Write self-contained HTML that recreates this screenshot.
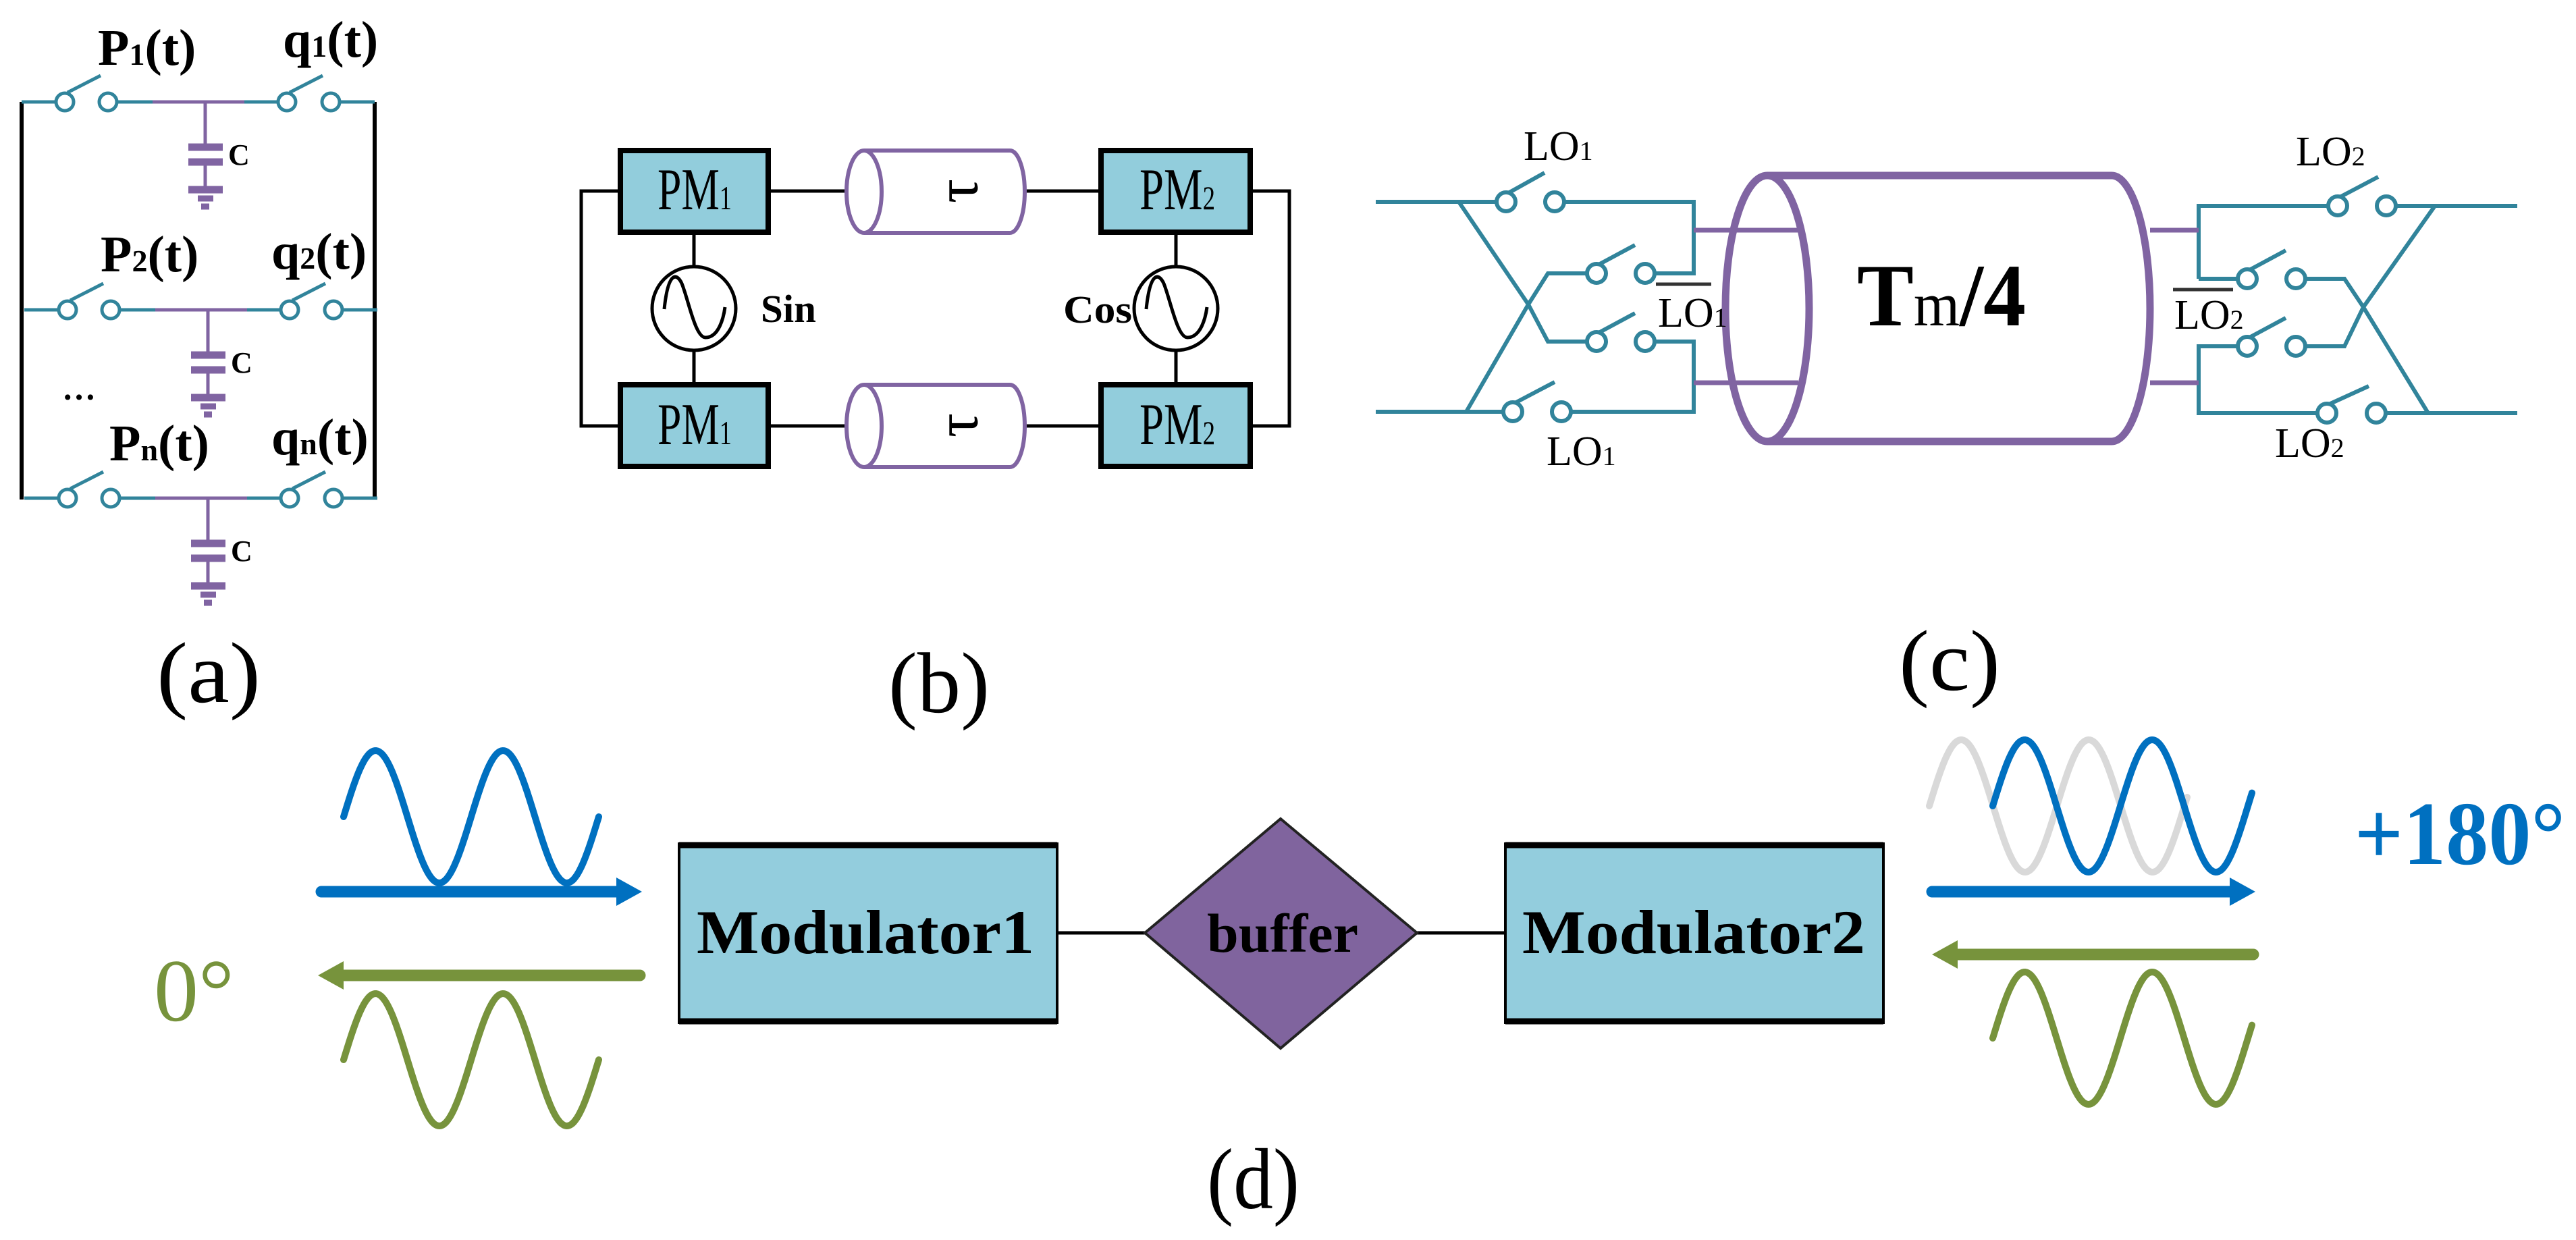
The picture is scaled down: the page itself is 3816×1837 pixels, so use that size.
<!DOCTYPE html>
<html><head><meta charset="utf-8"><style>
html,body{margin:0;padding:0;background:#fff;}
svg{display:block;}
text{font-family:"Liberation Serif",serif;}
</style></head><body>
<svg id="s" width="3816" height="1837" viewBox="0 0 3816 1837" xmlns="http://www.w3.org/2000/svg">
<rect width="3816" height="1837" fill="#fff"/>
<!-- ===== Panel (a) ===== -->
<g stroke="#000" stroke-width="6" fill="none">
<line x1="32" y1="151" x2="32" y2="740"/>
<line x1="555" y1="151" x2="555" y2="740"/>
</g>
<g id="rowa">
<g stroke="#31849b" stroke-width="5" fill="none">
<line x1="32" y1="151" x2="82" y2="151"/>
<circle cx="96" cy="151" r="13"/>
<line x1="100" y1="137" x2="149" y2="112"/>
<circle cx="160" cy="151" r="13"/>
<line x1="173" y1="151" x2="226" y2="151"/>
<line x1="362" y1="151" x2="411" y2="151"/>
<circle cx="425" cy="151" r="13"/>
<line x1="429" y1="137" x2="478" y2="112"/>
<circle cx="490" cy="151" r="13"/>
<line x1="503" y1="151" x2="555" y2="151"/>
</g>
<g stroke="#8064a2" fill="none">
<line x1="226" y1="151" x2="362" y2="151" stroke-width="5"/>
<line x1="304" y1="151" x2="304" y2="218" stroke-width="5"/>
<line x1="279" y1="218" x2="330" y2="218" stroke-width="11"/>
<line x1="279" y1="240" x2="330" y2="240" stroke-width="11"/>
<line x1="304" y1="240" x2="304" y2="281" stroke-width="5"/>
<line x1="279" y1="281" x2="330" y2="281" stroke-width="11"/>
<line x1="293" y1="294" x2="316" y2="294" stroke-width="9"/>
<line x1="298" y1="306" x2="310" y2="306" stroke-width="9"/>
</g>
<text x="338" y="244" font-size="44" font-weight="bold">C</text>
</g>
<use href="#rowa" transform="translate(4,308)"/>
<use href="#rowa" transform="translate(4,587)"/>
<g font-weight="bold" font-size="76">
<text x="145" y="96">P<tspan font-size="46">1</tspan>(t)</text>
<text x="419" y="84">q<tspan font-size="46">1</tspan>(t)</text>
<text x="149" y="402">P<tspan font-size="46">2</tspan>(t)</text>
<text x="402" y="398">q<tspan font-size="46">2</tspan>(t)</text>
<text x="162" y="682">P<tspan font-size="46">n</tspan>(t)</text>
<text x="402" y="673">q<tspan font-size="46">n</tspan>(t)</text>
<text x="92" y="592" font-size="50">…</text>
</g>
<text x="232" y="1040" font-size="128" textLength="154" lengthAdjust="spacingAndGlyphs">(a)</text>

<!-- ===== Panel (b) ===== -->
<g stroke="#000" stroke-width="5" fill="none">
<polyline points="919,283 861,283 861,631 919,631"/>
<polyline points="1852,283 1910,283 1910,631 1852,631"/>
<line x1="1138" y1="283" x2="1254" y2="283"/><line x1="1518" y1="283" x2="1631" y2="283"/>
<line x1="1138" y1="631" x2="1254" y2="631"/><line x1="1518" y1="631" x2="1631" y2="631"/>
<line x1="1028" y1="344" x2="1028" y2="395"/><line x1="1028" y1="519" x2="1028" y2="570"/>
<line x1="1742" y1="344" x2="1742" y2="395"/><line x1="1742" y1="519" x2="1742" y2="570"/>
<circle cx="1028" cy="457" r="62"/>
<circle cx="1742" cy="457" r="62"/>
<path d="M984,458 C990,400 1003,405 1010,420 C1020,445 1030,500 1045,500 C1065,500 1072,470 1074,455"/>
<path d="M1698,458 C1704,400 1717,405 1724,420 C1734,445 1744,500 1759,500 C1779,500 1786,470 1788,455"/>
</g>
<g fill="#92cddc" stroke="#000" stroke-width="8">
<rect x="919" y="223" width="219" height="121"/>
<rect x="919" y="570" width="219" height="121"/>
<rect x="1631" y="223" width="221" height="121"/>
<rect x="1631" y="570" width="221" height="121"/>
</g>
<g font-size="88">
<text x="974" y="310" textLength="110" lengthAdjust="spacingAndGlyphs">PM<tspan font-size="50">1</tspan></text>
<text x="974" y="658" textLength="110" lengthAdjust="spacingAndGlyphs">PM<tspan font-size="50">1</tspan></text>
<text x="1688" y="310" textLength="112" lengthAdjust="spacingAndGlyphs">PM<tspan font-size="50">2</tspan></text>
<text x="1688" y="658" textLength="112" lengthAdjust="spacingAndGlyphs">PM<tspan font-size="50">2</tspan></text>
</g>
<text x="1127" y="477" font-size="58" font-weight="bold" textLength="82" lengthAdjust="spacingAndGlyphs">Sin</text>
<text x="1575" y="478" font-size="58" font-weight="bold" textLength="102" lengthAdjust="spacingAndGlyphs">Cos</text>
<g id="tube" stroke="#8064a2" stroke-width="6" fill="#fff">
<path d="M1280,223 L1496,223 A22,61 0 0 1 1496,345 L1280,345"/>
<ellipse cx="1280" cy="284" rx="26" ry="61"/>
</g>
<use href="#tube" transform="translate(0,347)"/>
<text x="0" y="0" font-size="90" transform="translate(1418,283) rotate(-90)" text-anchor="middle" dominant-baseline="central">τ</text>
<text x="0" y="0" font-size="90" transform="translate(1418,630) rotate(-90)" text-anchor="middle" dominant-baseline="central">τ</text>
<text x="1316" y="1055" font-size="128" textLength="150" lengthAdjust="spacingAndGlyphs">(b)</text>

<!-- ===== Panel (c) ===== -->
<g stroke="#31849b" stroke-width="6" fill="none">
<line x1="2038" y1="299" x2="2217" y2="299"/>
<circle cx="2231" cy="299" r="14"/><line x1="2236" y1="285" x2="2288" y2="256"/>
<circle cx="2303" cy="299" r="14"/>
<polyline points="2317,299 2509,299 2509,405 2451,405"/>
<circle cx="2365" cy="405" r="14"/><line x1="2370" y1="391" x2="2422" y2="363"/>
<circle cx="2437" cy="405" r="14"/>
<circle cx="2365" cy="506" r="14"/><line x1="2370" y1="492" x2="2422" y2="464"/>
<circle cx="2437" cy="506" r="14"/>
<polyline points="2451,506 2509,506 2509,610 2327,610"/>
<circle cx="2241" cy="610" r="14"/><line x1="2246" y1="596" x2="2303" y2="566"/>
<circle cx="2313" cy="610" r="14"/>
<line x1="2038" y1="610" x2="2227" y2="610"/>
<polyline points="2161,299 2264,451 2293,506 2351,506"/>
<polyline points="2172,610 2264,451 2293,405 2351,405"/>
<!-- right -->
<polyline points="3257,413 3257,305 3449,305"/>
<circle cx="3463" cy="305" r="14"/><line x1="3468" y1="291" x2="3523" y2="262"/>
<circle cx="3535" cy="305" r="14"/>
<line x1="3549" y1="305" x2="3729" y2="305"/>
<line x1="3257" y1="413" x2="3315" y2="413"/>
<circle cx="3329" cy="413" r="14"/><line x1="3334" y1="399" x2="3386" y2="371"/>
<circle cx="3401" cy="413" r="14"/>
<circle cx="3329" cy="513" r="14"/><line x1="3334" y1="499" x2="3386" y2="471"/>
<circle cx="3401" cy="513" r="14"/>
<polyline points="3315,513 3257,513 3257,612 3433,612"/>
<circle cx="3447" cy="612" r="14"/><line x1="3452" y1="598" x2="3509" y2="572"/>
<circle cx="3520" cy="612" r="14"/>
<line x1="3534" y1="612" x2="3729" y2="612"/>
<polyline points="3415,413 3473,413 3501,455 3597,612"/>
<polyline points="3415,513 3473,513 3501,455 3607,305"/>
</g>
<g stroke="#8064a2" stroke-width="7">
<line x1="2509" y1="341" x2="2664" y2="341"/>
<line x1="2509" y1="567" x2="2664" y2="567"/>
<line x1="3185" y1="341" x2="3257" y2="341"/>
<line x1="3185" y1="567" x2="3257" y2="567"/>
</g>
<g stroke="#8064a2" stroke-width="11" fill="none">
<path d="M2618,260 L3128,260 A57,197 0 0 1 3128,654 L2618,654"/>
<ellipse cx="2618" cy="457" rx="62" ry="197"/>
</g>
<g font-size="62">
<text x="2257" y="237">LO<tspan font-size="40">1</tspan></text>
<text x="2456" y="484">LO<tspan font-size="40">1</tspan></text>
<text x="2291" y="689">LO<tspan font-size="40">1</tspan></text>
<text x="3401" y="245">LO<tspan font-size="40">2</tspan></text>
<text x="3221" y="487">LO<tspan font-size="40">2</tspan></text>
<text x="3370" y="677">LO<tspan font-size="40">2</tspan></text>
</g>
<g stroke="#333" stroke-width="5">
<line x1="2453" y1="421" x2="2535" y2="421"/>
<line x1="3219" y1="429" x2="3308" y2="429"/>
</g>
<text x="2751" y="482" font-size="132" font-weight="bold" textLength="250" lengthAdjust="spacingAndGlyphs">T<tspan font-weight="normal" font-size="92">m</tspan>/4</text>
<text x="2813" y="1022" font-size="128" textLength="150" lengthAdjust="spacingAndGlyphs">(c)</text>

<!-- ===== Panel (d) ===== -->
<g stroke="#000" stroke-width="5">
<line x1="1566" y1="1382" x2="1696" y2="1382"/>
<line x1="2099" y1="1382" x2="2230" y2="1382"/>
</g>
<g fill="#93cddd">
<rect x="1006" y="1250" width="560" height="265" stroke="#000" stroke-width="4"/>
<rect x="2230" y="1250" width="560" height="265" stroke="#000" stroke-width="4"/>
</g>
<g stroke="#000" stroke-width="9">
<line x1="1006" y1="1252" x2="1566" y2="1252"/><line x1="1006" y1="1513" x2="1566" y2="1513"/>
<line x1="2230" y1="1252" x2="2790" y2="1252"/><line x1="2230" y1="1513" x2="2790" y2="1513"/>
</g>
<polygon points="1696,1382 1897,1213 2099,1382 1897,1553" fill="#80649e" stroke="#222" stroke-width="4"/>
<text x="1032" y="1412" font-size="92" font-weight="bold" textLength="500" lengthAdjust="spacingAndGlyphs">Modulator1</text>
<text x="2255" y="1412" font-size="92" font-weight="bold" textLength="508" lengthAdjust="spacingAndGlyphs">Modulator2</text>
<text x="1788" y="1410" font-size="82" font-weight="bold" textLength="224" lengthAdjust="spacingAndGlyphs">buffer</text>
<g id="waves" fill="none" stroke-width="10" stroke-linecap="round"></g>
<g stroke-width="17" stroke-linecap="round">
<line x1="476" y1="1321" x2="925" y2="1321" stroke="#0070c0"/>
<line x1="2862" y1="1321" x2="3315" y2="1321" stroke="#0070c0"/>
<line x1="948" y1="1445" x2="500" y2="1445" stroke="#77933c"/>
<line x1="3338" y1="1414" x2="2888" y2="1414" stroke="#77933c"/>
</g>
<polygon points="913,1300 951,1321 913,1342" fill="#0070c0"/>
<polygon points="3303,1300 3341,1321 3303,1342" fill="#0070c0"/>
<polygon points="509,1424 471,1445 509,1466" fill="#77933c"/>
<polygon points="2900,1393 2862,1414 2900,1435" fill="#77933c"/>
<text x="228" y="1512" font-size="132" fill="#77933c">0°</text>
<text x="3488" y="1280" font-size="134" fill="#0070c0" font-weight="bold" textLength="312" lengthAdjust="spacingAndGlyphs">+180°</text>
<text x="1788" y="1790" font-size="128" textLength="137" lengthAdjust="spacingAndGlyphs">(d)</text>
</svg>
<script>
(function(){
var g=document.getElementById('waves');
function w(x0,x1,c,col){var d='';for(var x=x0;x<=x1;x+=2){var y=c-98*Math.sin(2*Math.PI*(x-x0)/189);d+=(x==x0?'M':'L')+x+','+y.toFixed(1);}
var p=document.createElementNS('http://www.w3.org/2000/svg','path');p.setAttribute('d',d);p.setAttribute('stroke',col);g.appendChild(p);}
w(2858,3240,1194,'#d9d9d9');
w(509,888,1210,'#0070c0');
w(509,888,1570,'#77933c');
w(2952,3336,1194,'#0070c0');
w(2952,3336,1538,'#77933c');
})();
</script>
</body></html>
